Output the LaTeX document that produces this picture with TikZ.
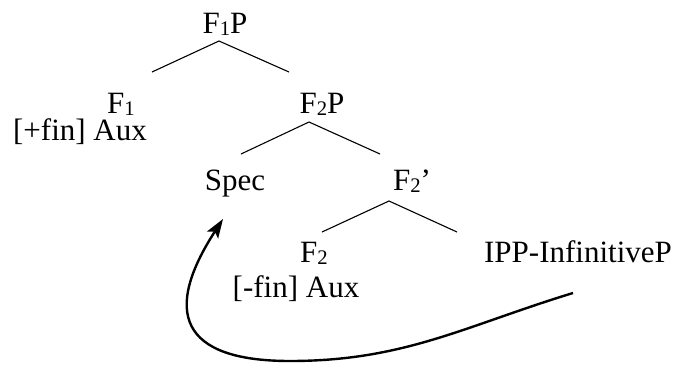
\documentclass[tikz,border=0pt]{standalone}
\usepackage{fontspec}
\setmainfont{Liberation Serif}
\usetikzlibrary{arrows.meta}
\newcommand{\subdigit}[1]{\raisebox{-2.5pt}{\fontsize{20.7}{20}\selectfont #1}}

\begin{document}
\begin{tikzpicture}[x=1pt, y=1pt, >=Stealth,
    lbl/.style={anchor=base, inner sep=0pt, font=\fontsize{31}{37}\selectfont},
    branch/.style={line width=1.1pt},
    move/.style={line width=2.4pt, -{Stealth[length=19pt, width=13pt, inset=4pt]}}]
    \useasboundingbox (0,0) rectangle (686,-365);

    % Labels
    \node[lbl] (f1p) at (225,-33) {F\subdigit{1}P};
    \node[lbl] (f1) at (121,-113) {F\subdigit{1}};
    \node[lbl] (fin1) at (80,-140) {[+fin] Aux};
    \node[lbl] (f2p) at (322,-113) {F\subdigit{2}P};
    \node[lbl] (spec) at (235,-190) {Spec};
    \node[lbl] (f2bar) at (412,-190) {F\subdigit{2}'};
    \node[lbl] (f2) at (314,-262) {F\subdigit{2}};
    \node[lbl] (fin2) at (296,-297) {[-fin] Aux};
    \node[lbl] (ipp) at (578,-262) {IPP-InfinitiveP};

    % Branch points
    \coordinate (f1p-top) at (219,-41);
    \coordinate (f1p-l) at (152,-72);
    \coordinate (f1p-r) at (289,-72);
    \coordinate (f2p-top) at (309,-122);
    \coordinate (f2p-l) at (241,-154);
    \coordinate (f2p-r) at (380,-154);
    \coordinate (f2bar-top) at (389,-201);
    \coordinate (f2bar-l) at (322,-232);
    \coordinate (f2bar-r) at (457,-232);

    % Branches
    \draw[branch] (f1p-l) -- (f1p-top) -- (f1p-r);
    \draw[branch] (f2p-l) -- (f2p-top) -- (f2p-r);
    \draw[branch] (f2bar-l) -- (f2bar-top) -- (f2bar-r);

    % Movement arrow
    \coordinate (mv-start) at (573,-293);
    \coordinate (mv-low) at (290,-361);
    \coordinate (mv-end) at (223,-219);
    \draw[move] (mv-start) to[out=197, in=0] (mv-low)
        to[out=180, in=237, looseness=1.8] (mv-end);
\end{tikzpicture}
\end{document}
